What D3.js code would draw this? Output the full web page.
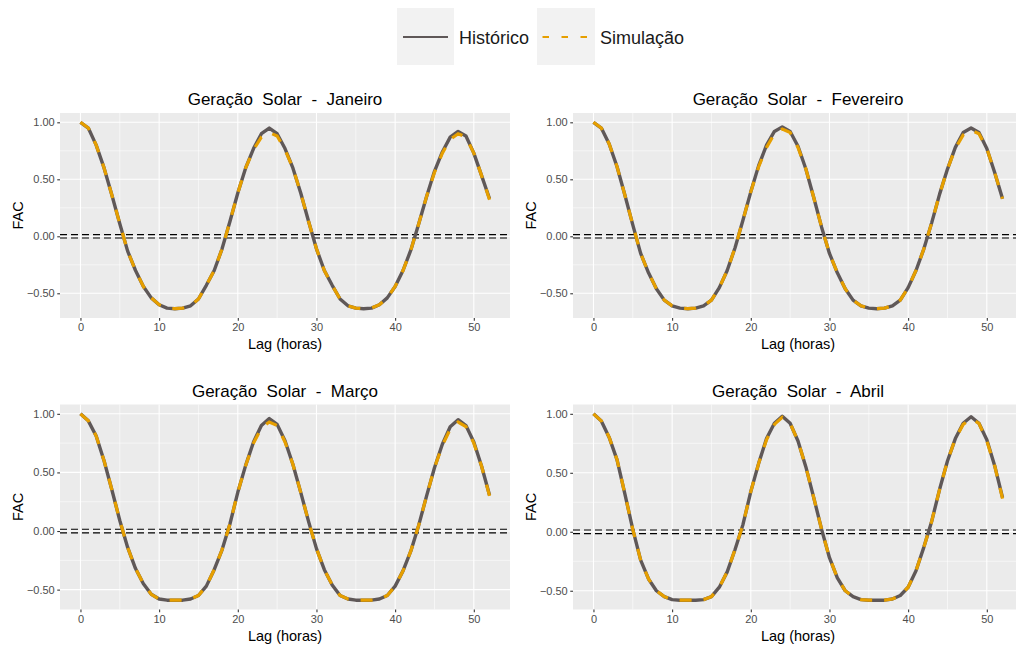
<!DOCTYPE html>
<meta charset="utf-8">
<style>
body{
    margin: 0;
    background: #fff;
    font-family: "Liberation Sans", Arial, sans-serif;
}
text{ white-space: pre; }
</style>
<body>

<div id="chart"></div>

<script src="https://cdn.jsdelivr.net/npm/d3@7"></script>
<script>

var lags = [0,1,2,3,4,5,6,7,8,9,10,11,12,13,14,15,16,17,18,19,20,21,22,23,24,25,
            26,27,28,29,30,31,32,33,34,35,36,37,38,39,40,41,42,43,44,45,46,47,48,49,50,51,52];

var months = ["Janeiro", "Fevereiro", "Março", "Abril"];

var janHist = [1.00, 0.95, 0.80, 0.60, 0.36, 0.11, -0.13, -0.30, -0.44, -0.54,
  -0.60, -0.63, -0.635, -0.63, -0.61, -0.55, -0.43, -0.30, -0.11, 0.13,
  0.38, 0.60, 0.77, 0.90, 0.95, 0.90, 0.77, 0.60, 0.38, 0.13,
  -0.11, -0.30, -0.43, -0.55, -0.61, -0.63, -0.635, -0.63, -0.60, -0.54,
  -0.44, -0.30, -0.12, 0.11, 0.35, 0.57, 0.74, 0.87, 0.92, 0.88,
  0.73, 0.53, 0.33];
var janSim = [1.00, 0.95, 0.80, 0.60, 0.36, 0.11, -0.13, -0.30, -0.44, -0.54,
  -0.60, -0.63, -0.635, -0.63, -0.61, -0.55, -0.43, -0.30, -0.11, 0.13,
  0.38, 0.60, 0.76, 0.87, 0.91, 0.88, 0.76, 0.60, 0.38, 0.13,
  -0.11, -0.30, -0.43, -0.55, -0.61, -0.63, -0.635, -0.63, -0.60, -0.54,
  -0.44, -0.30, -0.12, 0.11, 0.35, 0.56, 0.73, 0.85, 0.90, 0.87,
  0.73, 0.53, 0.32];

var febHist = [1.00, 0.95, 0.81, 0.61, 0.36, 0.10, -0.15, -0.32, -0.46, -0.56,
  -0.61, -0.63, -0.635, -0.63, -0.61, -0.56, -0.45, -0.30, -0.10, 0.14,
  0.39, 0.62, 0.80, 0.92, 0.96, 0.92, 0.79, 0.59, 0.34, 0.08,
  -0.15, -0.32, -0.46, -0.56, -0.61, -0.63, -0.635, -0.63, -0.61, -0.56,
  -0.45, -0.30, -0.11, 0.12, 0.37, 0.59, 0.78, 0.91, 0.95, 0.91,
  0.77, 0.56, 0.33];
var febSim = [1.00, 0.95, 0.81, 0.61, 0.36, 0.10, -0.15, -0.32, -0.46, -0.56,
  -0.61, -0.63, -0.635, -0.63, -0.61, -0.56, -0.45, -0.30, -0.10, 0.14,
  0.39, 0.61, 0.78, 0.90, 0.94, 0.91, 0.78, 0.59, 0.34, 0.08,
  -0.15, -0.32, -0.46, -0.56, -0.61, -0.63, -0.635, -0.63, -0.61, -0.56,
  -0.45, -0.30, -0.11, 0.12, 0.37, 0.59, 0.77, 0.89, 0.93, 0.90,
  0.77, 0.56, 0.33];

var marHist = [1.00, 0.94, 0.81, 0.60, 0.35, 0.09, -0.14, -0.32, -0.45, -0.54,
  -0.58, -0.59, -0.59, -0.59, -0.58, -0.55, -0.47, -0.33, -0.16, 0.06,
  0.33, 0.56, 0.76, 0.90, 0.96, 0.91, 0.77, 0.57, 0.33, 0.08,
  -0.15, -0.33, -0.46, -0.55, -0.58, -0.59, -0.59, -0.59, -0.58, -0.55,
  -0.47, -0.34, -0.17, 0.05, 0.30, 0.54, 0.74, 0.89, 0.95, 0.90,
  0.76, 0.55, 0.305];
var marSim = [1.00, 0.94, 0.81, 0.60, 0.35, 0.09, -0.14, -0.32, -0.45, -0.54,
  -0.58, -0.59, -0.59, -0.59, -0.58, -0.55, -0.47, -0.33, -0.16, 0.06,
  0.33, 0.56, 0.75, 0.88, 0.93, 0.90, 0.76, 0.57, 0.33, 0.08,
  -0.15, -0.33, -0.46, -0.55, -0.58, -0.59, -0.59, -0.59, -0.58, -0.55,
  -0.47, -0.34, -0.17, 0.05, 0.30, 0.54, 0.73, 0.87, 0.93, 0.89,
  0.75, 0.55, 0.30];

var aprHist = [1.00, 0.94, 0.80, 0.61, 0.32, 0.02, -0.24, -0.40, -0.50, -0.55,
  -0.575, -0.58, -0.58, -0.58, -0.575, -0.55, -0.47, -0.34, -0.15, 0.06,
  0.34, 0.58, 0.79, 0.92, 0.98, 0.92, 0.77, 0.55, 0.29, 0.02,
  -0.22, -0.39, -0.50, -0.55, -0.575, -0.58, -0.58, -0.58, -0.57, -0.54,
  -0.47, -0.33, -0.13, 0.09, 0.36, 0.60, 0.79, 0.92, 0.975, 0.92,
  0.78, 0.56, 0.29];
var aprSim = [1.00, 0.94, 0.80, 0.61, 0.32, 0.02, -0.24, -0.40, -0.50, -0.55,
  -0.575, -0.58, -0.58, -0.58, -0.575, -0.55, -0.47, -0.34, -0.15, 0.06,
  0.34, 0.58, 0.78, 0.91, 0.97, 0.92, 0.77, 0.55, 0.29, 0.02,
  -0.22, -0.39, -0.50, -0.55, -0.575, -0.58, -0.58, -0.58, -0.57, -0.54,
  -0.47, -0.33, -0.13, 0.09, 0.36, 0.60, 0.79, 0.91, 0.96, 0.92,
  0.77, 0.56, 0.28];

var hist = [janHist, febHist, marHist, aprHist];
var sim = [janSim, febSim, marSim, aprSim];

// dashed reference band around zero
var bounds = [0.015, -0.015];

var xTicks = [0, 10, 20, 30, 40, 50];
var xMinor = [5, 15, 25, 35, 45];
var yTicks = [-0.5, 0, 0.5, 1];
var yMinor = [-0.25, 0.25, 0.75];
var legendLabels = ["Histórico", "Simulação"];

var colHist = "#5f5858",
    colSim = "#e69f00";

var width = 1016, height = 645;
var pw = 450, ph = 205;
var panels = [
  {left: 60, top: 113},
  {left: 573, top: 113},
  {left: 60, top: 404.5},
  {left: 573, top: 404.5}
];

var svg = d3.select("#chart")
  .append("svg")
    .attr("width", width)
    .attr("height", height);

// legend
var legend = svg.append("g");
legend.append("rect").attr("x", 397).attr("y", 8).attr("width", 57).attr("height", 57).attr("fill", "#f2f2f2");
legend.append("rect").attr("x", 537).attr("y", 8).attr("width", 58).attr("height", 57).attr("fill", "#f2f2f2");
legend.append("line")
  .attr("x1", 403).attr("x2", 448).attr("y1", 37).attr("y2", 37)
  .attr("stroke", colHist).attr("stroke-width", 2.2);
legend.append("line")
  .attr("x1", 542.5).attr("x2", 590).attr("y1", 37).attr("y2", 37)
  .attr("stroke", colSim).attr("stroke-width", 2.2)
  .attr("stroke-dasharray", "6.5,12.5");
legend.append("text").attr("x", 459).attr("y", 43.5).text(legendLabels[0])
  .style("font-size", "18px").attr("fill", "#1a1a1a");
legend.append("text").attr("x", 600).attr("y", 43.5).text(legendLabels[1])
  .style("font-size", "18px").attr("fill", "#1a1a1a");

months.forEach(function(m, i){
  var p = panels[i];
  var g = svg.append("g")
      .attr("transform", "translate(" + p.left + "," + p.top + ")");

  var lo = Math.min(d3.min(hist[i]), d3.min(sim[i])),
      hi = Math.max(d3.max(hist[i]), d3.max(sim[i]));
  var padY = (hi - lo) * 0.05;

  var x = d3.scaleLinear()
      .domain([-2.6, 54.6])
      .range([0, pw]);
  var y = d3.scaleLinear()
      .domain([lo - padY, hi + padY])
      .range([ph, 0]);

  g.append("rect")
    .attr("width", pw).attr("height", ph)
    .attr("fill", "#ebebeb");

  // minor grid
  g.selectAll(".xminor").data(xMinor).enter().append("line")
    .attr("x1", function(d){ return x(d); }).attr("x2", function(d){ return x(d); })
    .attr("y1", 0).attr("y2", ph)
    .attr("stroke", "#fff").attr("stroke-width", 0.55);
  g.selectAll(".yminor").data(yMinor).enter().append("line")
    .attr("y1", function(d){ return y(d); }).attr("y2", function(d){ return y(d); })
    .attr("x1", 0).attr("x2", pw)
    .attr("stroke", "#fff").attr("stroke-width", 0.55);
  // major grid
  g.selectAll(".xmajor").data(xTicks).enter().append("line")
    .attr("x1", function(d){ return x(d); }).attr("x2", function(d){ return x(d); })
    .attr("y1", 0).attr("y2", ph)
    .attr("stroke", "#fff").attr("stroke-width", 1.1);
  g.selectAll(".ymajor").data(yTicks).enter().append("line")
    .attr("y1", function(d){ return y(d); }).attr("y2", function(d){ return y(d); })
    .attr("x1", 0).attr("x2", pw)
    .attr("stroke", "#fff").attr("stroke-width", 1.1);

  // axes
  var xAxis = g.append("g")
      .attr("transform", "translate(0," + ph + ")")
      .call(d3.axisBottom(x).tickValues(xTicks).tickSize(2.75).tickPadding(2.5));
  var yAxis = g.append("g")
      .call(d3.axisLeft(y).tickValues(yTicks).tickSize(2.75).tickPadding(2.5)
        .tickFormat(d3.format(".2f")));
  [xAxis, yAxis].forEach(function(a){
    a.select(".domain").remove();
    a.selectAll(".tick line").attr("stroke", "#333333").attr("stroke-width", 1.07);
    a.selectAll(".tick text")
      .attr("fill", "#4d4d4d")
      .style("font-family", "'Liberation Sans', Arial, sans-serif")
      .style("font-size", "11px");
  });

  // zero band
  g.selectAll(".bound").data(bounds).enter().append("line")
    .attr("x1", 0).attr("x2", pw)
    .attr("y1", function(d){ return y(d); }).attr("y2", function(d){ return y(d); })
    .attr("stroke", "#000").attr("stroke-width", 1.2)
    .attr("stroke-dasharray", "7,4");

  var line = d3.line()
      .x(function(d, j){ return x(lags[j]); })
      .y(function(d){ return y(d); });

  g.append("path")
    .datum(hist[i])
    .attr("d", line)
    .attr("fill", "none")
    .attr("stroke", colHist)
    .attr("stroke-width", 3.4)
    .attr("stroke-linejoin", "round");

  g.append("path")
    .datum(sim[i])
    .attr("d", line)
    .attr("fill", "none")
    .attr("stroke", colSim)
    .attr("stroke-width", 3.2)
    .attr("stroke-dasharray", "12,12");

  // titles
  g.append("text")
    .attr("x", pw / 2).attr("y", -8)
    .attr("text-anchor", "middle")
    .style("font-size", "17px")
    .attr("fill", "#000")
    .text("Geração  Solar  -  " + m);

  g.append("text")
    .attr("x", pw / 2).attr("y", ph + 31)
    .attr("text-anchor", "middle")
    .style("font-size", "14.5px")
    .attr("fill", "#000")
    .text("Lag (horas)");

  g.append("text")
    .attr("transform", "translate(-37," + (ph / 2) + ") rotate(-90)")
    .attr("text-anchor", "middle")
    .style("font-size", "14.5px")
    .attr("fill", "#000")
    .text("FAC");
});

</script>
</body>
